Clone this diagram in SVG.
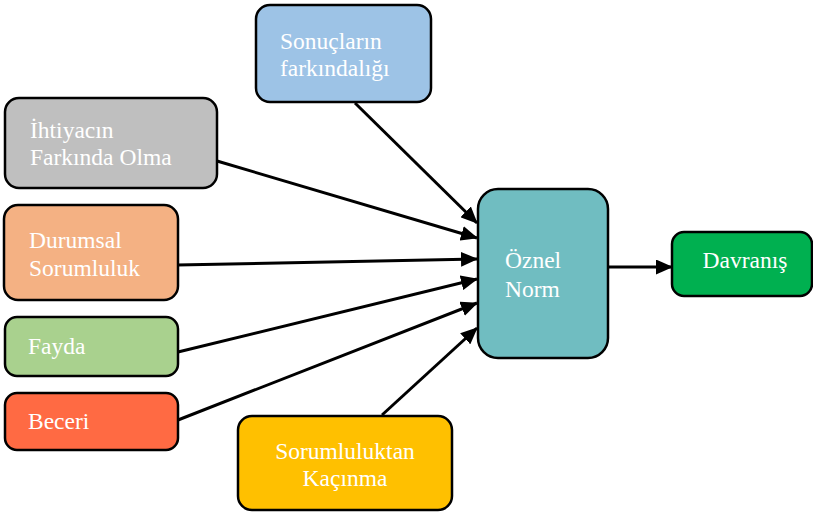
<svg xmlns="http://www.w3.org/2000/svg" width="813" height="512" viewBox="0 0 813 512">
  <style>
    .box { stroke: #000; stroke-width: 2.5; }
    .lbl { font-family: "Liberation Serif", "Times New Roman", serif; font-size: 23.5px; fill: #fff; }
    .mid { text-anchor: middle; }
    .edge { stroke: #000; stroke-width: 3; fill: none; marker-end: url(#head); }
  </style>
  <defs>
    <marker id="head" markerUnits="userSpaceOnUse" markerWidth="17" markerHeight="15" refX="16" refY="7.5" orient="auto">
      <path d="M0,0 L17,7.5 L0,15 Z" fill="#000"/>
    </marker>
  </defs>

  <g id="connectors">
    <line class="edge" x1="355" y1="103" x2="477" y2="223"/>
    <line class="edge" x1="217" y1="161" x2="477" y2="238"/>
    <line class="edge" x1="177" y1="265" x2="477" y2="259"/>
    <line class="edge" x1="178" y1="352" x2="477" y2="279"/>
    <line class="edge" x1="178" y1="420" x2="477" y2="303"/>
    <line class="edge" x1="382" y1="415" x2="477" y2="328"/>
    <line class="edge" x1="608" y1="267" x2="672" y2="267"/>
  </g>

  <g id="sonuclarin-farkindaligi">
    <rect class="box" x="256" y="5" width="175" height="97" rx="14" fill="#9DC3E6"/>
    <text class="lbl" x="280" y="49">Sonuçların</text>
    <text class="lbl" x="280" y="76">farkındalığı</text>
  </g>

  <g id="ihtiyacin-farkinda-olma">
    <rect class="box" x="5" y="98" width="212" height="90" rx="14" fill="#BFBFBF"/>
    <text class="lbl" x="30" y="138">İhtiyacın</text>
    <text class="lbl" x="30" y="165">Farkında Olma</text>
  </g>

  <g id="durumsal-sorumluluk">
    <rect class="box" x="4" y="205" width="174" height="95" rx="14" fill="#F4B183"/>
    <text class="lbl" x="29" y="248">Durumsal</text>
    <text class="lbl" x="29" y="276">Sorumluluk</text>
  </g>

  <g id="fayda">
    <rect class="box" x="5" y="317" width="173" height="59" rx="12" fill="#A9D18E"/>
    <text class="lbl" x="28" y="354">Fayda</text>
  </g>

  <g id="beceri">
    <rect class="box" x="5" y="393" width="173" height="57" rx="12" fill="#FF6A43"/>
    <text class="lbl" x="28" y="429">Beceri</text>
  </g>

  <g id="sorumluluktan-kacinma">
    <rect class="box" x="238" y="416" width="214" height="94" rx="14" fill="#FFC000"/>
    <text class="lbl mid" x="345" y="459">Sorumluluktan</text>
    <text class="lbl mid" x="345" y="486">Kaçınma</text>
  </g>

  <g id="oznel-norm">
    <rect class="box" x="478" y="189" width="130" height="169" rx="20" fill="#70BDC1"/>
    <text class="lbl" x="505" y="268">Öznel</text>
    <text class="lbl" x="505" y="297">Norm</text>
  </g>

  <g id="davranis">
    <rect class="box" x="672" y="232" width="140" height="64" rx="12" fill="#00B050"/>
    <text class="lbl mid" x="745" y="268">Davranış</text>
  </g>
</svg>
